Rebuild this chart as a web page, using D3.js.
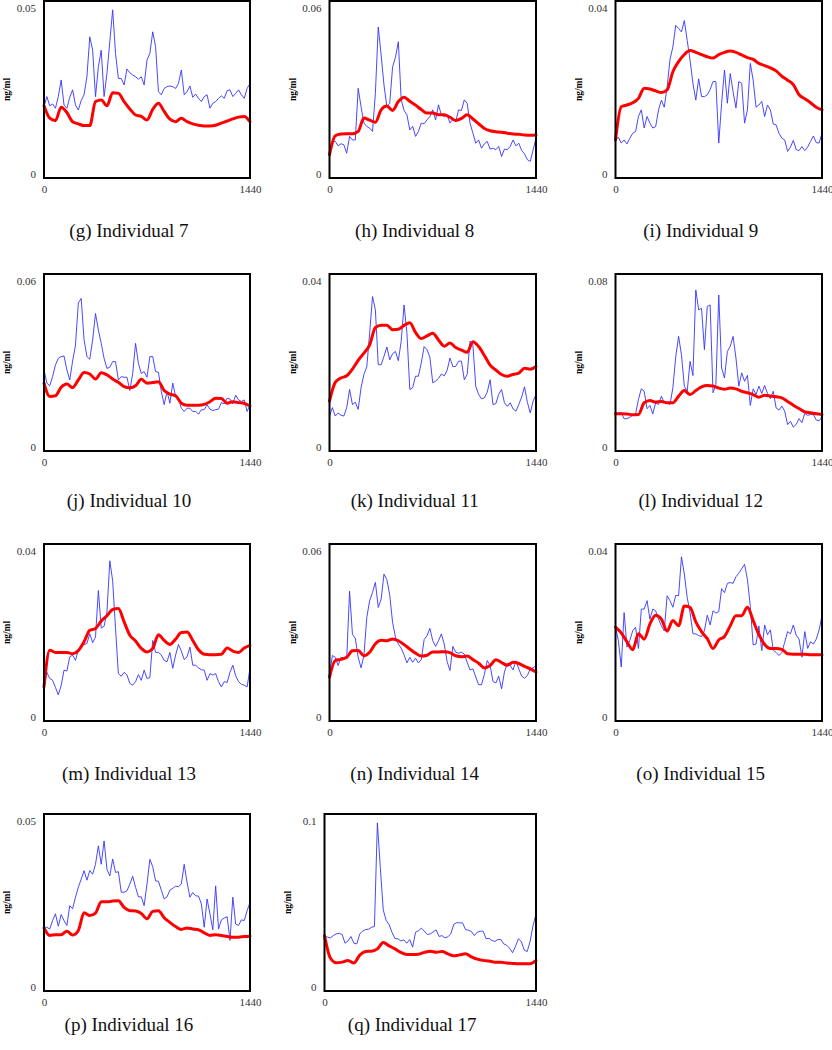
<!DOCTYPE html>
<html><head><meta charset="utf-8">
<script src="https://cdn.jsdelivr.net/npm/d3@7"></script>
<style>body{margin:0;background:#fff}svg{display:block}</style>
</head><body>
<script>
// ---------- DATA (concentrations in units of 10^-3 ng/ml, time in minutes) ----------
const blueMinutes = d3.range(0, 1441, 20);   // sampling grid of the observed (blue) series
const redMinutes  = d3.range(0, 1441, 40);   // sampling grid of the fitted (red) series
const xTickLabels = ["0", "1440"];
const xDomain = [0, 1440];
const captions = ["(g) Individual 7","(h) Individual 8","(i) Individual 9","(j) Individual 10","(k) Individual 11","(l) Individual 12","(m) Individual 13","(n) Individual 14","(o) Individual 15","(p) Individual 16","(q) Individual 17"];
const yMaxValues = [0.05, 0.06, 0.04, 0.06, 0.04, 0.08, 0.04, 0.06, 0.04, 0.05, 0.1];
const yMaxLabels = ["0.05","0.06","0.04","0.06","0.04","0.08","0.04","0.06","0.04","0.05","0.1"];
const yAxisLabel = "ng/ml";

const blue7 = [20.2,23.0,20.4,20.9,19.7,23.0,27.7,20.6,19.7,22.8,24.9,20.6,19.2,21.9,23.5,28.6,39.9,36.1,23.0,31.4,36.1,23.0,29.5,38.5,47.5,35.2,28.1,28.1,26.3,30.8,29.7,29.1,28.6,27.9,28.6,26.3,33.3,35.2,41.3,37.1,24.4,23.5,25.3,25.8,26.0,25.8,25.3,26.7,30.5,23.5,24.4,26.0,22.8,23.7,22.5,21.6,23.0,23.5,19.7,21.1,21.6,22.5,23.2,22.5,24.7,24.9,23.0,23.9,24.9,23.5,22.5,25.3,26.7];
const red7 = [20.4,16.9,16.2,20.0,18.5,15.9,15.3,14.8,14.8,21.6,22.0,20.4,24.1,23.9,21.6,19.5,17.8,17.4,16.4,19.4,21.1,18.8,16.6,15.9,16.9,15.9,15.3,14.9,14.7,14.7,14.9,15.5,16.1,16.7,17.2,17.4,15.9];

const blue8 = [7.5,12.4,12.4,10.9,11.6,11.3,8.4,14.1,12.9,12.9,30.4,24.2,18.6,17.5,16.9,15.8,28.7,51.2,41.7,31.5,24.2,25.3,37.7,40.9,46.2,26.5,22.9,21.4,16.3,17.5,14.1,15.8,18.6,18.4,19.7,20.8,23.1,19.7,24.8,21.4,20.8,21.4,18.6,19.9,19.1,23.1,22.9,26.5,25.3,18.6,15.2,11.8,12.9,10.1,11.6,12.4,9.8,10.1,9.6,10.7,7.3,9.8,9.6,10.7,12.9,10.9,11.8,9.3,8.2,6.2,5.6,9.6,13.5];
const red8 = [7.9,14.3,14.9,15.0,15.0,15.8,20.3,19.6,18.9,23.1,24.4,22.9,25.9,27.4,26.0,24.7,23.2,22.0,22.0,21.4,21.4,20.6,19.5,20.2,21.4,20.0,18.4,16.8,16.0,15.7,15.5,15.2,14.9,14.8,14.6,14.5,14.6];

const blue9 = [8.6,9.2,7.9,8.6,7.7,9.0,10.1,10.5,13.9,15.4,11.3,13.9,12.4,11.3,11.6,15.4,17.6,16.0,20.6,26.8,29.6,34.5,33.8,33.0,35.6,31.1,26.6,21.4,17.6,22.4,18.4,18.4,18.8,20.0,21.8,21.8,7.9,16.9,24.4,16.9,23.6,19.5,15.8,21.8,21.4,12.4,15.4,25.9,22.1,16.0,16.5,17.3,13.9,16.5,15.4,12.2,12.0,10.1,9.0,8.6,6.0,7.0,8.5,6.4,6.2,7.1,6.2,7.0,8.3,9.5,8.0,7.9,10.1];
const red9 = [8.6,16.1,16.5,17.0,18.0,20.3,20.1,19.7,19.3,19.9,24.0,26.3,27.9,28.8,28.4,27.9,27.4,27.1,27.9,28.4,28.7,28.4,27.8,27.2,26.8,25.9,25.4,24.9,24.2,23.0,22.1,21.1,18.8,17.9,17.0,16.0,15.4];

const blue10 = [27.5,23.0,22.1,25.2,29.2,31.4,32.0,32.2,27.5,24.1,30.5,35.9,50.2,51.7,37.8,32.0,31.1,37.6,46.6,41.0,36.5,31.4,28.0,28.4,30.3,30.3,24.1,25.2,25.0,25.0,20.5,26.3,36.5,29.7,26.3,26.9,25.0,32.0,32.0,26.9,26.7,20.2,15.7,20.2,16.2,23.0,18.5,17.9,14.5,13.4,14.5,14.5,13.4,13.4,12.5,14.0,14.0,15.7,14.2,13.7,14.0,14.2,16.4,16.0,17.9,17.6,16.0,18.9,17.3,16.8,17.3,13.4,15.7];
const red10 = [23.0,18.5,18.7,21.6,22.7,21.5,24.1,26.6,26.1,24.4,26.5,25.8,24.4,23.3,21.8,21.4,22.1,24.3,23.0,23.2,23.5,20.5,19.3,18.7,16.2,15.5,15.5,15.5,15.8,16.7,17.9,17.8,16.2,16.7,16.4,16.1,15.3];

const blue11 = [7.9,9.8,7.9,8.6,8.1,7.9,9.8,13.9,10.5,11.0,9.4,14.3,17.3,19.0,26.6,34.9,31.9,19.5,19.5,21.4,23.5,20.6,22.0,22.5,20.4,24.8,33.0,26.6,13.9,14.3,16.9,16.9,19.9,23.6,22.9,21.2,15.4,15.8,16.4,17.4,17.0,18.2,21.0,19.1,19.1,20.3,20.3,16.1,17.3,24.8,24.0,14.6,12.8,11.8,12.0,13.3,16.1,10.5,10.7,12.8,13.9,10.9,10.1,10.9,9.5,9.0,10.5,12.2,14.5,11.0,8.6,11.3,12.8];
const red11 = [11.3,15.5,16.5,17.0,18.5,20.5,22.1,24.0,27.9,28.4,28.4,27.4,27.5,28.4,29.0,26.8,25.4,26.0,26.6,25.1,23.7,24.4,23.4,22.8,22.3,24.7,23.6,21.6,19.4,18.3,17.3,16.9,17.3,17.6,18.7,18.5,19.1];

const blue12 = [16.5,17.0,17.3,14.6,14.6,15.3,16.1,16.7,23.3,28.1,27.0,19.1,20.6,16.8,21.8,21.0,24.8,21.8,21.8,21.0,28.5,42.5,51.8,43.5,29.3,27.0,40.5,34.1,72.8,63.8,64.5,45.8,65.3,66.0,26.3,30.0,70.5,37.5,33.0,45.0,47.3,51.8,42.0,29.3,35.3,31.5,34.2,20.6,28.1,25.5,29.3,26.0,29.6,26.0,23.6,27.0,19.5,18.5,20.3,18.0,11.9,13.4,10.8,12.0,14.6,12.8,17.0,16.1,16.5,16.4,14.0,13.7,15.5];
const red12 = [16.8,16.8,16.7,16.4,16.5,21.8,22.8,22.1,22.4,21.8,21.8,24.8,27.3,25.5,27.3,29.0,29.6,29.4,28.4,27.9,28.5,28.1,27.0,26.3,25.5,24.3,25.2,24.9,24.5,24.0,22.4,20.7,19.2,17.7,17.3,16.8,16.5];

const blue13 = [7.7,11.0,9.6,9.2,7.6,5.9,8.0,11.5,11.3,14.5,14.9,13.7,16.1,17.1,17.3,17.5,19.7,17.7,19.0,29.5,21.0,21.4,24.6,36.2,31.7,20.9,10.7,10.1,11.0,10.4,8.5,8.1,8.9,10.5,9.2,11.5,9.6,9.8,18.2,15.5,15.5,14.9,13.7,13.4,15.5,11.9,14.9,17.3,15.8,13.9,14.5,16.7,12.6,12.6,12.0,11.6,11.5,9.2,10.7,10.4,10.7,8.9,7.7,8.9,8.7,11.0,12.6,10.2,8.9,8.3,8.1,7.7,11.9];
const red13 = [7.7,16.0,15.5,15.5,15.5,15.2,15.9,17.9,20.5,20.9,22.6,23.8,25.2,25.4,22.4,19.4,18.1,16.4,15.6,16.4,19.5,18.2,17.3,18.5,20.0,20.1,18.2,16.1,15.1,15.0,15.0,15.1,16.5,15.8,15.5,16.5,17.1];

const blue14 = [15.4,22.2,21.6,18.8,21.6,21.3,21.1,44.0,29.4,28.0,21.6,18.0,22.2,35.1,40.8,43.6,47.0,38.5,41.3,49.8,47.9,42.7,33.4,28.4,26.1,24.7,22.4,19.7,21.6,19.9,21.3,19.7,20.8,27.6,28.9,31.4,27.2,25.3,27.2,29.5,26.1,20.2,17.1,25.3,23.3,23.0,23.3,22.7,19.9,17.3,17.7,14.9,12.3,12.3,15.8,20.5,18.8,13.4,12.9,15.2,10.9,16.6,19.6,18.8,17.3,20.4,17.7,15.2,14.5,15.4,17.7,18.0,18.8];
const red14 = [14.9,20.5,20.9,21.6,23.8,23.9,22.1,23.3,26.2,27.4,27.2,27.8,27.2,25.9,24.4,23.0,22.0,22.3,23.4,23.4,23.5,23.2,22.1,21.8,22.0,20.8,19.6,18.0,18.8,20.8,19.8,18.9,19.9,19.5,18.5,17.7,16.6];

const blue15 = [21.2,18.2,12.2,24.5,16.7,18.2,20.4,21.2,16.4,25.3,25.3,27.2,23.0,25.3,24.9,23.0,21.5,20.4,28.3,27.2,25.7,28.4,28.3,37.1,33.2,27.9,24.5,19.7,19.7,19.3,19.1,20.4,23.9,21.7,24.9,24.4,24.7,29.9,29.0,31.1,31.3,31.1,32.6,33.4,34.4,35.4,32.0,25.9,17.2,17.4,21.5,15.9,21.7,19.5,20.6,16.0,15.5,14.8,15.5,17.8,20.2,19.7,21.7,19.4,18.5,14.4,20.2,16.4,17.9,17.4,18.5,20.6,23.8];
const red15 = [21.2,19.9,17.9,16.1,19.7,18.5,21.9,23.9,23.0,20.3,22.7,21.5,26.0,25.7,22.4,20.2,18.6,16.4,18.3,19.1,21.5,23.8,23.8,25.7,22.7,19.5,17.3,16.4,16.4,16.2,15.2,15.1,15.1,15.1,15.0,15.0,15.0];

const blue16 = [18.0,18.0,17.5,19.9,21.8,18.3,21.6,19.9,18.5,24.1,23.2,26.5,29.3,31.6,34.0,31.3,34.0,33.0,35.8,41.0,35.8,42.4,34.4,32.5,37.3,33.5,33.7,27.9,27.9,28.3,30.2,32.4,29.3,26.6,26.6,24.1,30.2,37.2,35.1,31.1,31.0,28.5,26.0,26.6,28.5,29.0,29.6,29.5,30.2,35.8,30.7,26.5,27.8,26.9,26.8,24.6,18.0,26.0,21.8,17.3,29.7,17.5,20.1,20.6,21.0,14.3,26.5,18.9,18.5,20.1,19.9,22.7,25.0];
const red16 = [17.8,15.7,15.9,15.9,16.9,15.8,17.1,22.1,21.3,22.0,25.2,25.2,25.4,25.5,23.6,22.7,22.6,21.9,20.4,22.5,22.7,20.7,19.4,18.2,17.4,17.8,17.5,17.3,16.4,15.7,15.9,15.7,15.4,15.2,15.2,15.4,15.5];

const blue17 = [31.3,30.4,30.0,31.3,32.3,32.6,31.9,27.0,28.3,30.8,27.0,26.6,32.3,33.8,34.7,34.9,36.0,36.4,95.0,69.8,45.8,39.8,37.5,33.0,29.6,29.5,28.3,28.9,27.0,29.1,24.8,33.2,34.1,35.5,33.8,31.9,32.3,33.4,34.5,30.8,31.3,30.0,30.6,32.3,37.7,38.6,38.5,38.5,34.7,34.3,33.6,31.3,33.2,33.8,33.8,29.5,29.8,28.5,28.0,29.1,29.1,26.6,25.9,24.2,21.6,25.1,29.5,28.0,23.1,22.3,28.1,37.0,43.5];
const red17 = [31.3,18.6,15.9,16.3,17.3,15.8,20.3,22.3,22.5,23.8,27.4,25.5,23.8,21.8,20.6,20.6,20.8,21.8,22.5,21.9,22.3,21.0,19.9,20.4,21.0,19.3,18.0,17.3,16.9,16.3,16.3,15.8,15.6,15.4,15.4,15.4,17.3];

const blueSeries = [blue7, blue8, blue9, blue10, blue11, blue12, blue13, blue14, blue15, blue16, blue17];
const redSeries  = [red7, red8, red9, red10, red11, red12, red13, red14, red15, red16, red17];
const UNIT = 1e-3; // stored values are in 10^-3 ng/ml

// ---------- LAYOUT ----------
const W = 832, H = 1050;
const colBoxes = [[44, 250], [329.5, 536], [615.5, 822]];
const rowBoxes = [[1, 178], [274, 451], [544, 721], [814, 991]];
const captionBaselines = [237, 507, 780, 1031];

const svg = d3.select("body").append("svg").attr("width", W).attr("height", H);
const FONT = "'Liberation Serif','Times New Roman',serif";

captions.forEach((cap, i) => {
  const r = Math.floor(i / 3), c = i % 3;
  let [x0, x1] = colBoxes[c];
  if (i === 10) { x0 = 324.5; x1 = 536; }
  const [y0, y1] = rowBoxes[r];
  const x = d3.scaleLinear().domain(xDomain).range([x0, x1]);
  const y = d3.scaleLinear().domain([0, yMaxValues[i]]).range([y1, y0]);
  const g = svg.append("g");

  const blueData = blueSeries[i].map((v, k) => [blueMinutes[k], v * UNIT]);
  const redData = redSeries[i].map((v, k) => [redMinutes[k], v * UNIT]);

  const lineLin = d3.line().x(d => x(d[0])).y(d => y(d[1]));
  const lineSmooth = d3.line().x(d => x(d[0])).y(d => y(d[1])).curve(d3.curveMonotoneX);

  g.append("path").datum(blueData).attr("d", lineLin)
    .attr("fill", "none").attr("stroke", "#3434ff").attr("stroke-width", 0.9)
    .attr("stroke-linejoin", "round");
  g.append("path").datum(redData).attr("d", lineSmooth)
    .attr("fill", "none").attr("stroke", "#ff0000").attr("stroke-width", 3)
    .attr("stroke-linejoin", "round").attr("stroke-linecap", "round");

  g.append("rect").attr("x", x0).attr("y", y0).attr("width", x1 - x0).attr("height", y1 - y0)
    .attr("fill", "none").attr("stroke", "#000").attr("stroke-width", 2);

  // y axis (labels only)
  const yTickVals = [0, yMaxValues[i]];
  const yTickText = ["0", yMaxLabels[i]];
  const ya = g.append("g").attr("transform", `translate(${x0},0)`)
    .call(d3.axisLeft(y).tickValues(yTickVals).tickSize(0).tickPadding(8)
      .tickFormat((d, k) => yTickText[k]));
  ya.select(".domain").remove();
  ya.selectAll("text").attr("font-family", FONT).attr("font-size", 11).attr("fill", "#333")
    .attr("y", (d, k) => k === 0 ? -4 : 7);

  // x axis (labels only)
  const xa = g.append("g").attr("transform", `translate(0,${y1})`)
    .call(d3.axisBottom(x).tickValues(xDomain).tickSize(0).tickPadding(7)
      .tickFormat((d, k) => xTickLabels[k]));
  xa.select(".domain").remove();
  xa.selectAll("text").attr("font-family", FONT).attr("font-size", 11).attr("fill", "#333");

  // y axis title
  g.append("text").attr("transform", `translate(${x0 - 37},${(y0 + y1) / 2}) rotate(-90)`)
    .attr("text-anchor", "middle").attr("dominant-baseline", "central")
    .attr("font-family", FONT).attr("font-weight", "bold").attr("font-size", 9.5)
    .text(yAxisLabel);

  // caption
  g.append("text").attr("x", (x0 + x1) / 2 - 18).attr("y", captionBaselines[r])
    .attr("text-anchor", "middle").attr("font-family", FONT).attr("font-size", 19)
    .attr("fill", "#111").text(cap);
});
</script>
</body></html>
